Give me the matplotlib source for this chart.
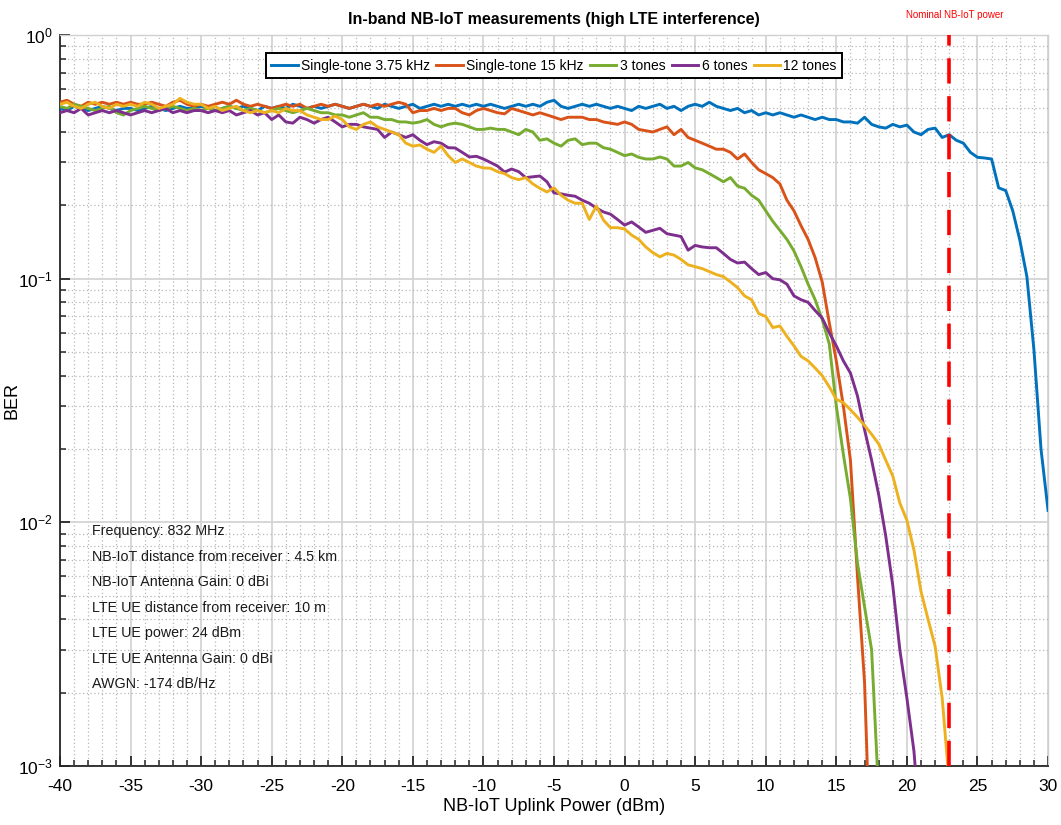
import matplotlib
matplotlib.use('Agg')
import matplotlib.pyplot as plt
import numpy as np
from matplotlib.ticker import LogLocator, MultipleLocator, NullFormatter

plt.rcParams['font.family'] = ['Liberation Sans Narrow', 'Liberation Sans', 'DejaVu Sans']
plt.rcParams['axes.unicode_minus'] = False

# NB-IoT uplink power grid (dBm), 0.5 dB step
power = np.arange(-40, 30.5, 0.5)

# BER values (each series stops once it is below 1e-3)
ber_st375 = [
    0.50, 0.49, 0.51, 0.50, 0.49, 0.50, 0.51, 0.50, 0.49, 0.50,
    0.50, 0.49, 0.50, 0.51, 0.50, 0.49, 0.50, 0.51, 0.50, 0.50,
    0.51, 0.50, 0.49, 0.50, 0.51, 0.50, 0.51, 0.50, 0.49, 0.51,
    0.50, 0.51, 0.50, 0.52, 0.51, 0.50, 0.51, 0.50, 0.51, 0.52,
    0.51, 0.50, 0.51, 0.52, 0.51, 0.50, 0.52, 0.51, 0.50, 0.51,
    0.52, 0.50, 0.51, 0.52, 0.51, 0.52, 0.51, 0.52, 0.51, 0.52,
    0.51, 0.52, 0.51, 0.50, 0.51, 0.52, 0.51, 0.52, 0.51, 0.53,
    0.54, 0.51, 0.50, 0.51, 0.52, 0.51, 0.52, 0.51, 0.50, 0.51,
    0.50, 0.49, 0.51, 0.50, 0.51, 0.52, 0.50, 0.51, 0.49, 0.51,
    0.52, 0.51, 0.53, 0.51, 0.50, 0.49, 0.50, 0.48, 0.49, 0.47,
    0.48, 0.47, 0.48, 0.47, 0.46, 0.47, 0.46, 0.45, 0.46, 0.45,
    0.45, 0.44, 0.44, 0.435, 0.46, 0.43, 0.42, 0.415, 0.43, 0.42,
    0.427, 0.40, 0.39, 0.41, 0.415, 0.38, 0.39, 0.37, 0.36, 0.33,
    0.315, 0.313, 0.31, 0.236, 0.23, 0.19, 0.144, 0.102, 0.051, 0.02,
    0.0112]

ber_st15 = [
    0.53, 0.54, 0.52, 0.51, 0.53, 0.52, 0.53, 0.52, 0.53, 0.52,
    0.53, 0.52, 0.52, 0.53, 0.52, 0.51, 0.53, 0.54, 0.52, 0.51,
    0.52, 0.51, 0.52, 0.53, 0.52, 0.54, 0.52, 0.51, 0.52, 0.51,
    0.50, 0.51, 0.52, 0.51, 0.52, 0.50, 0.51, 0.52, 0.51, 0.52,
    0.51, 0.50, 0.51, 0.52, 0.51, 0.52, 0.51, 0.52, 0.53, 0.52,
    0.48, 0.49, 0.49, 0.50, 0.49, 0.50, 0.50, 0.48, 0.47, 0.49,
    0.50, 0.49, 0.48, 0.475, 0.50, 0.49, 0.48, 0.47, 0.48, 0.47,
    0.46, 0.45, 0.46, 0.46, 0.46, 0.45, 0.45, 0.44, 0.435, 0.43,
    0.44, 0.43, 0.41, 0.405, 0.40, 0.41, 0.42, 0.39, 0.41, 0.38,
    0.37, 0.36, 0.35, 0.34, 0.34, 0.33, 0.31, 0.325, 0.30, 0.28,
    0.27, 0.26, 0.245, 0.21, 0.19, 0.165, 0.145, 0.122, 0.097, 0.066,
    0.046, 0.03, 0.018, 0.006, 0.0022, 0.0003]

ber_3t = [
    0.51, 0.50, 0.52, 0.51, 0.50, 0.49, 0.50, 0.51, 0.48, 0.47,
    0.49, 0.50, 0.51, 0.50, 0.49, 0.50, 0.51, 0.50, 0.49, 0.50,
    0.49, 0.50, 0.49, 0.50, 0.51, 0.50, 0.49, 0.50, 0.49, 0.48,
    0.49, 0.50, 0.49, 0.48, 0.49, 0.50, 0.49, 0.48, 0.48, 0.47,
    0.47, 0.46, 0.47, 0.48, 0.46, 0.46, 0.45, 0.45, 0.44, 0.44,
    0.435, 0.44, 0.45, 0.43, 0.42, 0.43, 0.435, 0.43, 0.42, 0.41,
    0.41, 0.415, 0.41, 0.41, 0.40, 0.39, 0.41, 0.40, 0.37, 0.375,
    0.36, 0.35, 0.37, 0.375, 0.355, 0.36, 0.36, 0.345, 0.34, 0.33,
    0.32, 0.325, 0.315, 0.31, 0.31, 0.316, 0.31, 0.29, 0.29, 0.30,
    0.285, 0.28, 0.27, 0.26, 0.25, 0.26, 0.24, 0.235, 0.22, 0.21,
    0.19, 0.172, 0.158, 0.145, 0.13, 0.112, 0.095, 0.082, 0.068, 0.054,
    0.03, 0.019, 0.0125, 0.0068, 0.0045, 0.003, 0.00076]

ber_6t = [
    0.48, 0.49, 0.48, 0.50, 0.47, 0.48, 0.49, 0.48, 0.49, 0.48,
    0.47, 0.48, 0.49, 0.48, 0.49, 0.50, 0.48, 0.49, 0.48, 0.49,
    0.49, 0.48, 0.49, 0.48, 0.49, 0.47, 0.48, 0.49, 0.47, 0.48,
    0.45, 0.47, 0.44, 0.435, 0.46, 0.45, 0.435, 0.45, 0.46, 0.44,
    0.42, 0.43, 0.43, 0.42, 0.415, 0.41, 0.38, 0.40, 0.39, 0.38,
    0.39, 0.37, 0.355, 0.365, 0.36, 0.345, 0.344, 0.33, 0.316, 0.318,
    0.31, 0.30, 0.29, 0.274, 0.282, 0.275, 0.26, 0.262, 0.264, 0.25,
    0.225, 0.223, 0.22, 0.218, 0.21, 0.204, 0.195, 0.188, 0.184, 0.175,
    0.166, 0.171, 0.163, 0.155, 0.158, 0.161, 0.153, 0.151, 0.149, 0.131,
    0.137, 0.135, 0.134, 0.134, 0.127, 0.12, 0.116, 0.117, 0.11, 0.104,
    0.106, 0.10, 0.099, 0.095, 0.085, 0.082, 0.08, 0.074, 0.069, 0.06,
    0.053, 0.046, 0.041, 0.033, 0.024, 0.018, 0.013, 0.0088, 0.0055, 0.003,
    0.0019, 0.00115, 0.0005]

ber_12t = [
    0.52, 0.53, 0.51, 0.50, 0.52, 0.53, 0.51, 0.50, 0.52, 0.51,
    0.52, 0.51, 0.53, 0.52, 0.50, 0.51, 0.52, 0.55, 0.53, 0.52,
    0.52, 0.50, 0.51, 0.49, 0.50, 0.51, 0.49, 0.48, 0.49, 0.48,
    0.49, 0.48, 0.50, 0.49, 0.49, 0.47, 0.46, 0.45, 0.45, 0.465,
    0.45, 0.42, 0.41, 0.43, 0.44, 0.42, 0.41, 0.40, 0.39, 0.36,
    0.35, 0.354, 0.34, 0.33, 0.35, 0.32, 0.30, 0.31, 0.30, 0.29,
    0.285, 0.284, 0.275, 0.27, 0.26, 0.255, 0.26, 0.245, 0.235, 0.227,
    0.236, 0.22, 0.21, 0.204, 0.204, 0.175, 0.199, 0.174, 0.162, 0.162,
    0.16, 0.151, 0.145, 0.135, 0.128, 0.123, 0.127, 0.125, 0.12, 0.114,
    0.112, 0.11, 0.107, 0.104, 0.102, 0.097, 0.092, 0.085, 0.082, 0.072,
    0.07, 0.063, 0.064, 0.058, 0.053, 0.048, 0.046, 0.043, 0.04, 0.036,
    0.032, 0.031, 0.029, 0.027, 0.025, 0.023, 0.021, 0.018, 0.0155, 0.012,
    0.0102, 0.0077, 0.0052, 0.0040, 0.0031, 0.0019, 0.00085]

series = [
    ('Single-tone 3.75 kHz', ber_st375, '#0072BD'),
    ('Single-tone 15 kHz', ber_st15, '#D95319'),
    ('3 tones', ber_3t, '#77AC30'),
    ('6 tones', ber_6t, '#7E2F8E'),
    ('12 tones', ber_12t, '#EDB120'),
]

nominal_power = 23

info_lines = [
    'Frequency: 832 MHz',
    'NB-IoT distance from receiver : 4.5 km',
    'NB-IoT Antenna Gain: 0 dBi',
    'LTE UE distance from receiver: 10 m',
    'LTE UE power: 24 dBm',
    'LTE UE Antenna Gain: 0 dBi',
    'AWGN: -174 dB/Hz',
]

fig = plt.figure(figsize=(10.61, 8.25), dpi=100)
ax = fig.add_axes([0.0565, 0.0715, 0.9313, 0.886])

for name, ber, col in series:
    ax.semilogy(power[:len(ber)], ber, color=col, lw=2.1, label=name, zorder=3)

ax.axvline(nominal_power, color='red', lw=2.6, dashes=(7, 3.5), zorder=4)
ax.text(nominal_power + 0.4, 1.02, 'Nominal NB-IoT power', color='red', fontsize=7,
        ha='center', va='bottom', transform=ax.get_xaxis_transform())

ax.set_xlim(-40, 30)
ax.set_ylim(1e-3, 1)
ax.xaxis.set_major_locator(MultipleLocator(5))
ax.xaxis.set_minor_locator(MultipleLocator(1))
ax.yaxis.set_major_locator(LogLocator(base=10, numticks=10))
ax.yaxis.set_minor_locator(LogLocator(base=10, subs=np.arange(2, 10), numticks=20))
ax.yaxis.set_minor_formatter(NullFormatter())

ax.grid(True, which='major', color='#d4d4d4', lw=1.3, ls='-', zorder=0)
ax.grid(True, which='minor', color='#b8b8b8', lw=0.9, ls=(0, (1, 2)), zorder=0)

ax.tick_params(which='both', direction='in', top=False, right=False, labelsize=12.5,
               color='#262626')
ax.tick_params(axis='x', which='major', pad=9)
ax.tick_params(axis='y', which='major', pad=5)
ax.tick_params(which='major', length=7, width=1.3)
ax.tick_params(which='minor', length=4, width=1.1)
for s in ['left', 'bottom']:
    ax.spines[s].set_color('#262626')
    ax.spines[s].set_linewidth(1.3)
for s in ['top', 'right']:
    ax.spines[s].set_color('#d0d0d0')
    ax.spines[s].set_linewidth(1.0)

ax.set_xlabel('NB-IoT Uplink Power (dBm)', fontsize=13, labelpad=3)
ax.set_ylabel('BER', fontsize=13)
ax.yaxis.set_label_coords(-0.04, 0.5)
ax.set_title('In-band NB-IoT measurements (high LTE interference)', fontsize=11.5,
             fontweight='bold', pad=8)

leg = ax.legend(loc='upper center', bbox_to_anchor=(0.5, 0.985), ncol=5, fontsize=10,
                handlelength=1.9, handletextpad=0.25, columnspacing=0.45,
                borderpad=0.4, fancybox=False, framealpha=1, edgecolor='black')
leg.get_frame().set_linewidth(1.4)

for i, line in enumerate(info_lines):
    ax.text(0.032, 0.321 - i * 0.0349, line, transform=ax.transAxes, fontsize=10.3,
            va='center', ha='left', color='#1a1a1a')

fig.savefig('out.png', dpi=100)
